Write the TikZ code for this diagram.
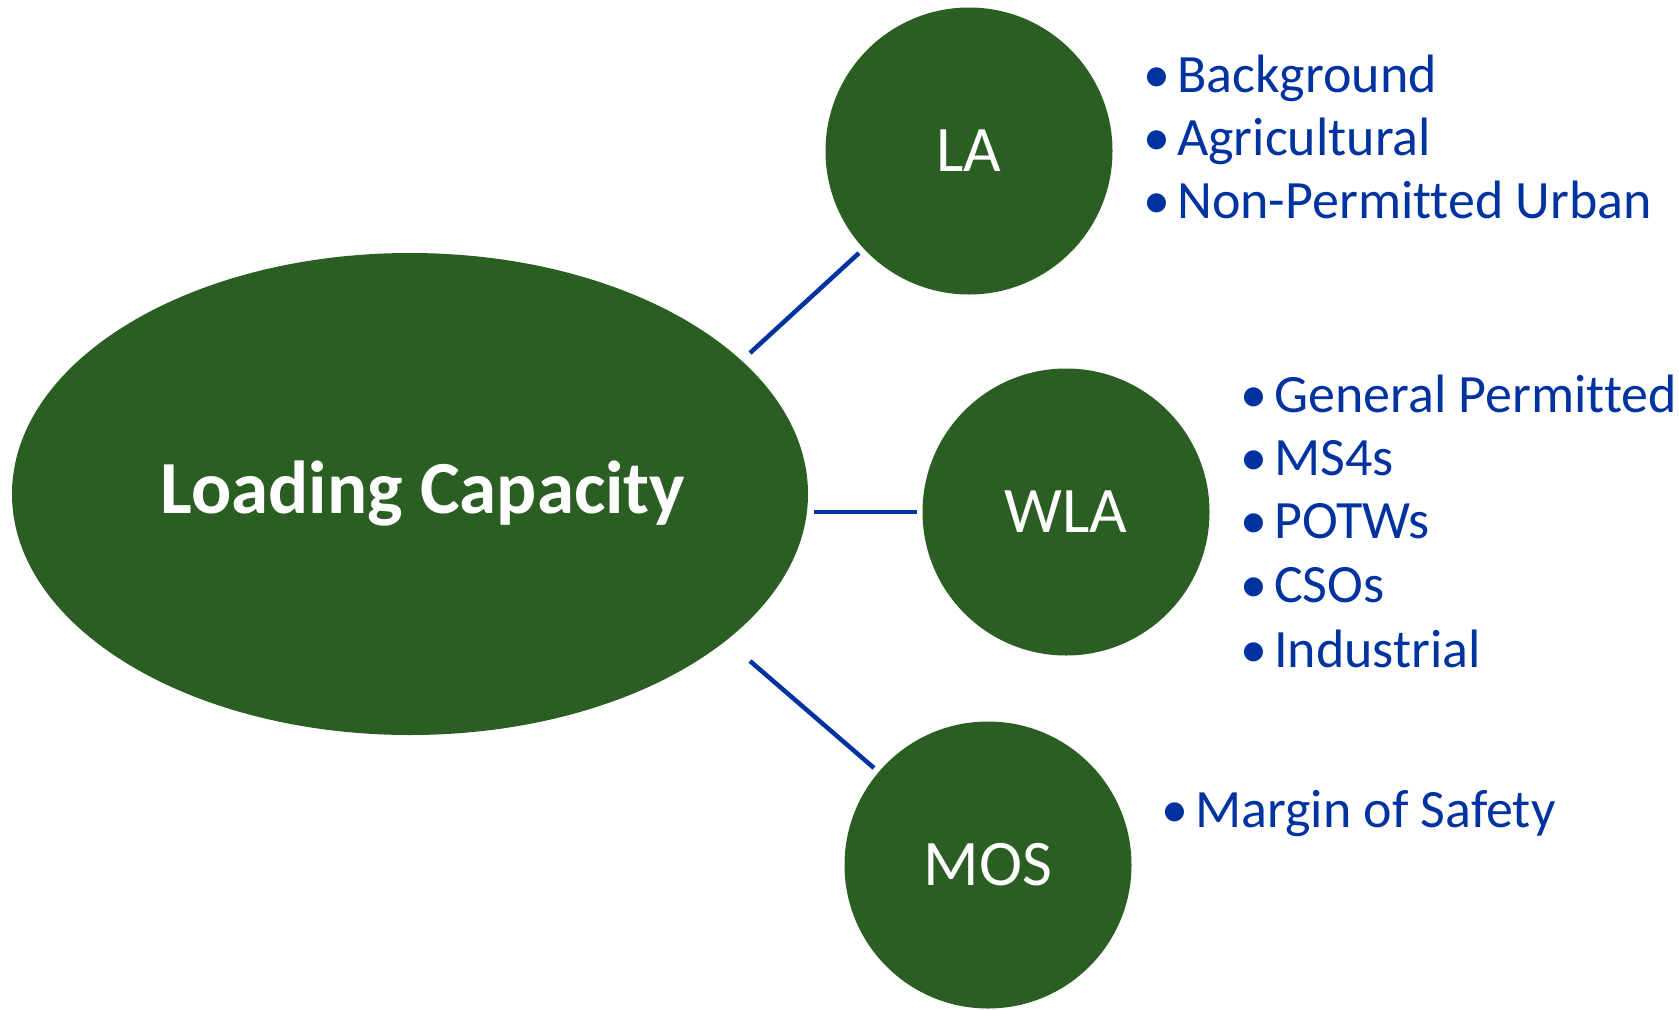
\documentclass[tikz,border=0pt]{standalone}
\usepackage{fontspec}
\setmainfont{Carlito}[Ligatures={NoCommon}]
\definecolor{tmdlgreen}{RGB}{43, 94, 35}
\definecolor{tmdlblue}{RGB}{0, 51, 160}
\usetikzlibrary{shapes.geometric, positioning}

\begin{document}
\begin{tikzpicture}[
  x=1pt, y=-1pt,
  hub/.style={ellipse, fill=tmdlgreen, text=white, inner sep=0pt, minimum width=796pt, minimum height=482pt, font=\fontsize{75}{80}\selectfont\bfseries},
  part/.style={circle, fill=tmdlgreen, text=white, inner sep=0pt, minimum size=287pt, font=\fontsize{65}{70}\selectfont},
  item/.style={anchor=base west, inner sep=0pt, text=tmdlblue, font=\fontsize{54}{60}\selectfont},
  link/.style={draw=tmdlblue, line width=4.5pt}
]
  \useasboundingbox (0,0) rectangle (1679,1010);

  % loading capacity and its three parts
  \node[hub] (lc) at (410, 494) {\hspace*{26pt}Loading Capacity};
  \node[part] (la) at (969, 151) {LA};
  \node[part] (wla) at (1066, 512) {WLA};
  \node[part] (mos) at (988, 865) {MOS};

  % connector ends
  \coordinate (laA) at (750, 353);
  \coordinate (laB) at (859, 253);
  \coordinate (wlaA) at (814, 512);
  \coordinate (wlaB) at (917, 512);
  \coordinate (mosA) at (750, 661);
  \coordinate (mosB) at (874, 768);
  \draw[link] (laA) -- (laB);
  \draw[link] (wlaA) -- (wlaB);
  \draw[link] (mosA) -- (mosB);

  % LA sources
  \node[item] (bg) at (1143, 92) {\makebox[34pt][l]{\textbullet}Background};
  \node[item] (ag) at (1143, 155) {\makebox[34pt][l]{\textbullet}Agricultural};
  \node[item] (npu) at (1143, 218) {\makebox[34pt][l]{\textbullet}Non-Permitted Urban};

  % WLA sources
  \node[item] (gp) at (1240, 412) {\makebox[34pt][l]{\textbullet}General Permitted};
  \node[item] (ms4) at (1240, 475) {\makebox[34pt][l]{\textbullet}MS4s};
  \node[item] (potw) at (1240, 538) {\makebox[34pt][l]{\textbullet}POTWs};
  \node[item] (cso) at (1240, 602) {\makebox[34pt][l]{\textbullet}CSOs};
  \node[item] (ind) at (1240, 667) {\makebox[34pt][l]{\textbullet}Industrial};

  % MOS
  \node[item] (ms) at (1161, 827) {\makebox[34pt][l]{\textbullet}Margin of Safety};
\end{tikzpicture}
\end{document}
